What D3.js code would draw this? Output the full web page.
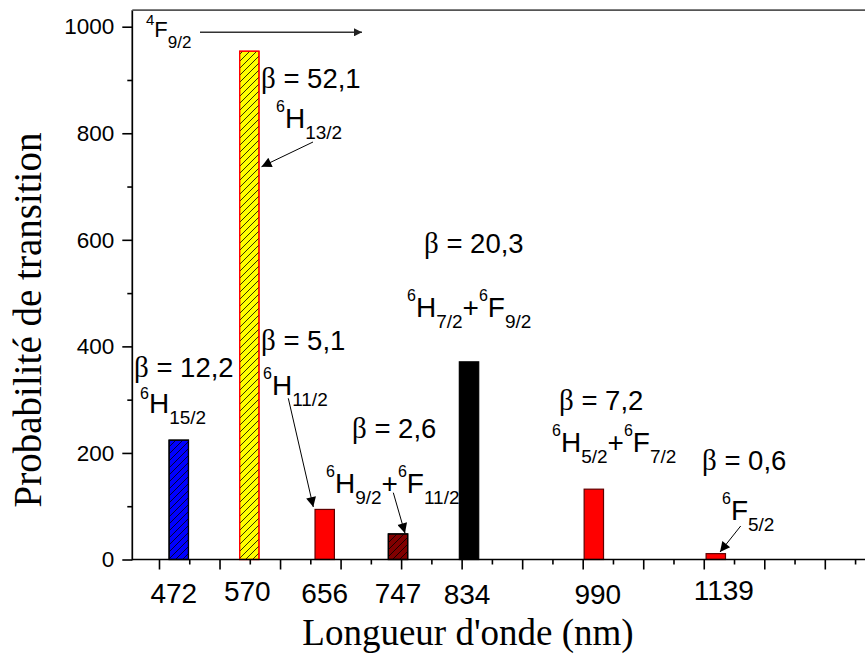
<!DOCTYPE html>
<html><head><meta charset="utf-8">
<script src="https://cdn.jsdelivr.net/npm/d3@7"></script>
<style>body{margin:0;background:#fff}svg{display:block}</style>
</head><body>
<svg id="c" width="865" height="654"></svg>
<script>
// ---- data ----
const wavelengths = ["472","570","656","747","834","990","1139"];
const positions   = [0.327, 1.492, 2.738, 3.949, 5.122, 7.184, 9.199]; // x-axis units
const values      = [224, 954, 94, 48, 371, 132, 11];
const betas       = ["12,2","52,1","5,1","2,6","20,3","7,2","0,6"];
const fills       = ["#0000ff","#ffff00","#ff0000","#800000","#000000","#ff0000","#ff0000"];
const strokes     = ["#000","#ff0000","#600000","#000","#000","#600000","#600000"];
const hatched     = [true,true,false,true,false,false,false];
const yMajor = [0,200,400,600,800,1000];
const yMinor = [100,300,500,700,900];
const xMajor = d3.range(0,12,1);
const xMinor = d3.range(0.5,12,1);

const svg = d3.select("#c");
const x = d3.scaleLinear().domain([-0.441, 11.664]).range([132.3, 865]);
const y = d3.scaleLinear().domain([0, 1000]).range([559.5, 26.7]);
const SANS = "'Liberation Sans', Arial, sans-serif";
const SERIF = "'Liberation Serif', 'Times New Roman', serif";

const defs = svg.append("defs");
const pat = defs.append("pattern").attr("id","hatch").attr("patternUnits","userSpaceOnUse")
  .attr("width",7).attr("height",7);
pat.append("path").attr("d","M-1,8 L8,-1 M-2,2 L2,-2 M5,9 L9,5").attr("stroke","#000").attr("stroke-width",0.8);
const mk = defs.append("marker").attr("id","arr").attr("viewBox","0 0 10 10").attr("refX",10).attr("refY",5)
  .attr("markerWidth",14).attr("markerHeight",10).attr("markerUnits","userSpaceOnUse").attr("orient","auto");
mk.append("path").attr("d","M0,0 L10,5 L0,10 Z").attr("fill","#000");
const mk2 = defs.append("marker").attr("id","arr2").attr("viewBox","0 0 10 10").attr("refX",10).attr("refY",5)
  .attr("markerWidth",16).attr("markerHeight",8).attr("markerUnits","userSpaceOnUse").attr("orient","auto");
mk2.append("path").attr("d","M0,0 L10,5 L0,10 Z").attr("fill","#222");

// ---- bars ----
const bw = x(0.16) - x(-0.16);
const bars = svg.append("g");
wavelengths.forEach((w,i)=>{
  const x0 = x(positions[i]) - bw/2, y0 = y(values[i]), h = y(0) - y(values[i]);
  bars.append("rect").attr("x",x0).attr("y",y0).attr("width",bw).attr("height",h)
    .attr("fill",fills[i]).attr("stroke",strokes[i]).attr("stroke-width",1.2);
  if (hatched[i]) bars.append("rect").attr("x",x0).attr("y",y0).attr("width",bw).attr("height",h)
    .attr("fill","url(#hatch)").attr("stroke",strokes[i]).attr("stroke-width",1.2);
});

// ---- axes ----
const ax = svg.append("g").attr("transform",`translate(0,${y(0)})`);
ax.call(d3.axisBottom(x).tickValues(xMajor).tickSize(10).tickFormat(""));
ax.call(g=>g.append("g").call(d3.axisBottom(x).tickValues(xMinor).tickSize(5).tickFormat("")));
ax.selectAll(".domain").remove();
ax.selectAll("line").attr("stroke","#000").attr("stroke-width",1.6);
const ay = svg.append("g").attr("transform",`translate(${x.range()[0]},0)`);
ay.call(d3.axisLeft(y).tickValues(yMajor).tickSize(10).tickPadding(8).tickFormat(d3.format("d")));
ay.call(g=>g.append("g").call(d3.axisLeft(y).tickValues(yMinor).tickSize(5).tickFormat("")));
ay.selectAll(".domain").remove();
ay.selectAll("line").attr("stroke","#000").attr("stroke-width",1.6);
ay.selectAll("text").attr("font-family",SANS).attr("font-size",22.5).attr("fill","#000");
// frame lines
svg.append("line").attr("x1",x.range()[0]).attr("x2",x.range()[0]).attr("y1",y(1031)).attr("y2",y(0)+0.8).attr("stroke","#000").attr("stroke-width",1.7);
svg.append("line").attr("x1",x.range()[0]).attr("x2",865).attr("y1",y(0)).attr("y2",y(0)).attr("stroke","#000").attr("stroke-width",1.7);
svg.append("line").attr("x1",x.range()[0]).attr("x2",865).attr("y1",y(1031)).attr("y2",y(1031)).attr("stroke","#555").attr("stroke-width",1.7);

// wavelength labels
const xlabY = [603,601,603,603,604,604,600];
const xlabDx = [-5,-2,0,0,-2,4,8];
wavelengths.forEach((w,i)=>{
  svg.append("text").attr("x",x(positions[i])+xlabDx[i]).attr("y",xlabY[i]).attr("text-anchor","middle")
    .attr("font-family",SANS).attr("font-size",28).text(w);
});

// titles
svg.append("text").attr("x",468).attr("y",645).attr("text-anchor","middle").attr("font-family",SERIF)
  .attr("font-size",37).text("Longueur d'onde (nm)");
svg.append("text").attr("transform","translate(41,320) rotate(-90)").attr("text-anchor","middle")
  .attr("font-family",SERIF).attr("font-size",39).text("Probabilité de transition");

// ---- annotations ----
function rich(x0,y0,parts,sz){
  const t = svg.append("text").attr("x",x0).attr("y",y0).attr("font-family",SANS).attr("fill","#000");
  let cur = 0;
  parts.forEach(([k,s])=>{
    const target = k==="sup" ? -sz.up : k==="sub" ? sz.down : 0;
    const fs = k==="main" ? sz.main : k==="sup" ? sz.sup : sz.sub;
    t.append("tspan").attr("dy",target-cur).attr("font-size",fs).text(s);
    cur = target;
  });
}
const big = {main:28, sup:16, sub:19, up:16, down:11};
function beta(x0,y0,v){
  const t = svg.append("text").attr("x",x0).attr("y",y0).attr("font-family",SANS).attr("font-size",27.5);
  t.append("tspan").attr("font-family",SERIF).attr("font-size",29).text("β");
  t.append("tspan").text(" = "+v);
}
// beta labels (positions in px)
const betaPos = [[134,377],[261,88],[261,350],[352,438],[424,253],[559,410],[702,470]];
betas.forEach((b,i)=>beta(betaPos[i][0],betaPos[i][1],b));

rich(146,37,[["sup","4"],["main","F"],["sub","9/2"]],{main:22,sup:15,sub:17,up:12,down:11});
svg.append("line").attr("x1",200).attr("y1",32.3).attr("x2",362).attr("y2",32.3).attr("stroke","#333").attr("stroke-width",1.5).attr("marker-end","url(#arr2)");

rich(276,128,[["sup","6"],["main","H"],["sub","13/2"]],big);
svg.append("line").attr("x1",313).attr("y1",142).attr("x2",261.5).attr("y2",166.7).attr("stroke","#000").attr("marker-end","url(#arr)");

rich(140,413,[["sup","6"],["main","H"],["sub","15/2"]],{main:28, sup:16, sub:19, up:14, down:11});

rich(263,395,[["sup","6"],["main","H"],["sub","11/2"]],big);
svg.append("line").attr("x1",288.3).attr("y1",398.3).attr("x2",313.3).attr("y2",507).attr("stroke","#000").attr("marker-end","url(#arr)");

rich(326,493,[["sup","6"],["main","H"],["sub","9/2"],["main","+"],["sup","6"],["main","F"],["sub","11/2"]],big);
svg.append("line").attr("x1",393.3).attr("y1",492.7).attr("x2",405).attr("y2",533.3).attr("stroke","#000").attr("marker-end","url(#arr)");

rich(407,317,[["sup","6"],["main","H"],["sub","7/2"],["main","+"],["sup","6"],["main","F"],["sub","9/2"]],big);

rich(552,452,[["sup","6"],["main","H"],["sub","5/2"],["main","+"],["sup","6"],["main","F"],["sub","7/2"]],big);

rich(722,520,[["sup","6"],["main","F"],["sub","5/2"]],big);
svg.append("line").attr("x1",740.7).attr("y1",526).attr("x2",720).attr("y2",552).attr("stroke","#000").attr("marker-end","url(#arr)");
</script>
</body></html>
